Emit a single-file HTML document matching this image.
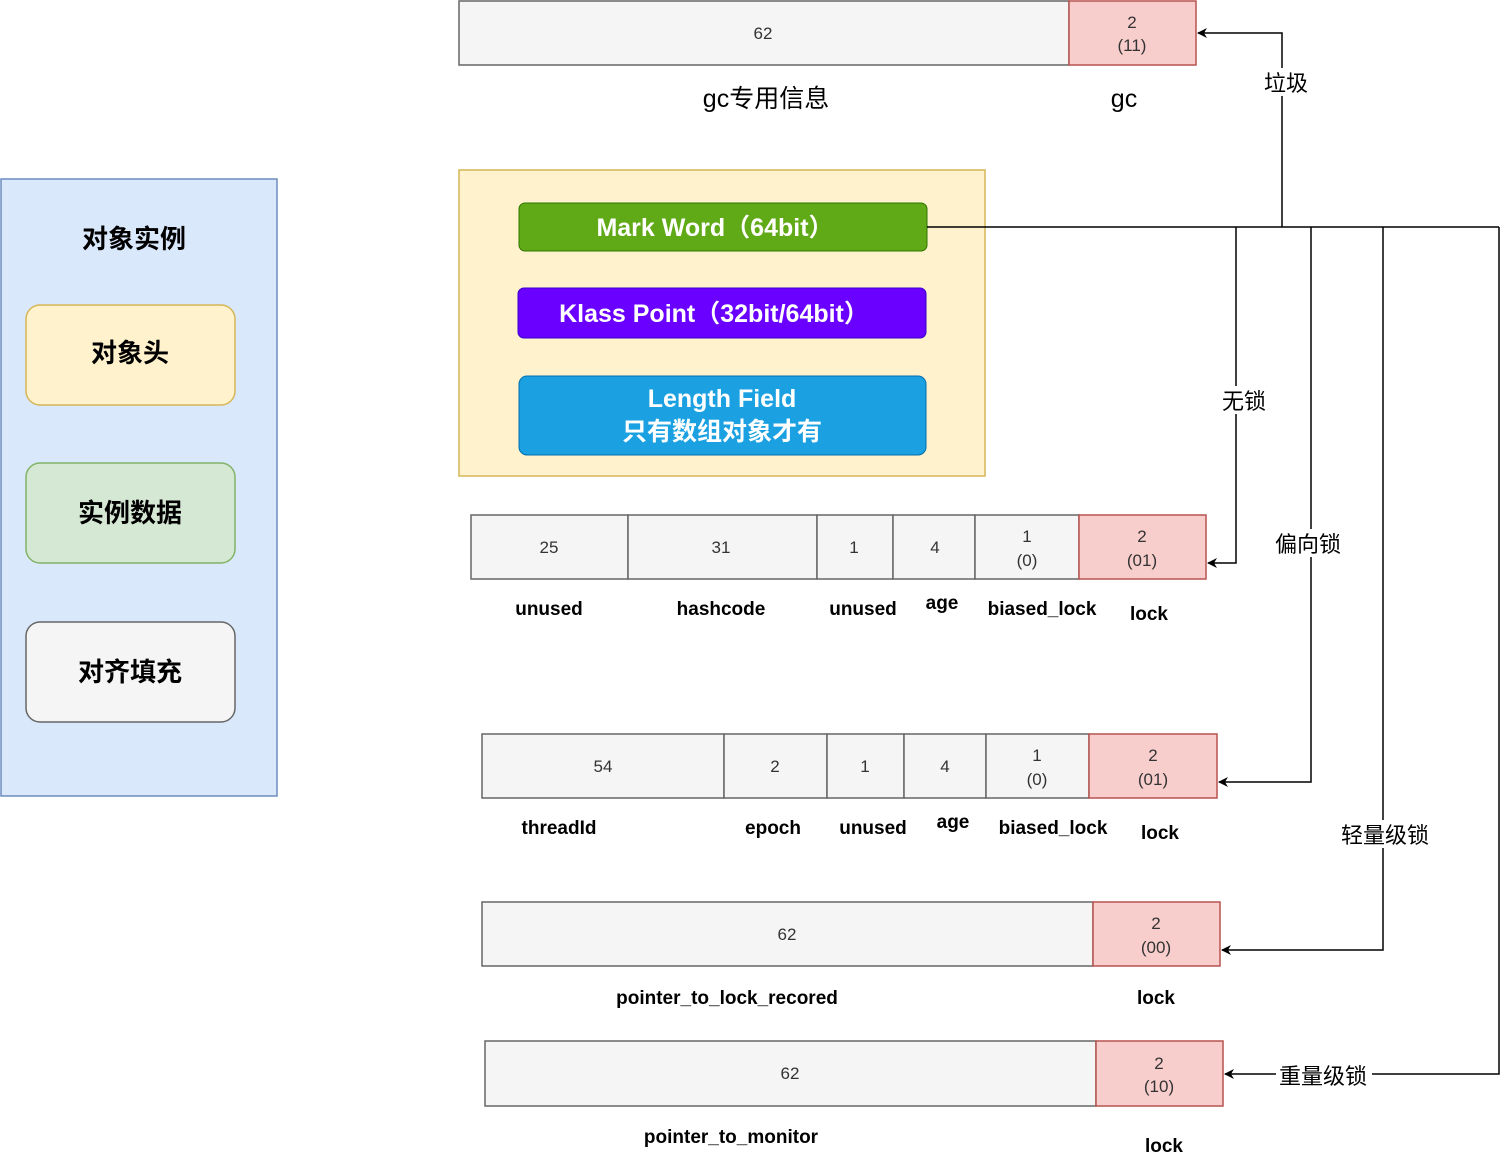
<!DOCTYPE html>
<html><head><meta charset="utf-8"><style>body{margin:0;background:#fff}svg{display:block}</style></head><body>
<svg width="1512" height="1169" xmlns="http://www.w3.org/2000/svg" font-family="Liberation Sans, Noto Sans CJK SC, sans-serif">
<defs><marker id="a" markerWidth="10" markerHeight="10" refX="9" refY="5" orient="auto" markerUnits="userSpaceOnUse"><path d="M0,0 L10,5 L0,10 L3,5 Z" fill="#000"/></marker></defs>
<!-- left panel -->
<rect x="1" y="179" width="276" height="617" fill="#dae8fc" stroke="#6c8ebf" stroke-width="1.5"/>
<text x="134" y="248" font-size="26" font-weight="bold" text-anchor="middle">对象实例</text>
<rect x="26" y="305" width="209" height="100" rx="14" fill="#fff2cc" stroke="#d6b656" stroke-width="1.5"/>
<text x="130" y="362" font-size="26" font-weight="bold" text-anchor="middle">对象头</text>
<rect x="26" y="463" width="209" height="100" rx="14" fill="#d5e8d4" stroke="#82b366" stroke-width="1.5"/>
<text x="130" y="522" font-size="26" font-weight="bold" text-anchor="middle">实例数据</text>
<rect x="26" y="622" width="209" height="100" rx="14" fill="#f5f5f5" stroke="#666" stroke-width="1.5"/>
<text x="130" y="681" font-size="26" font-weight="bold" text-anchor="middle">对齐填充</text>
<!-- header container -->
<rect x="459" y="170" width="526" height="306" fill="#fff2cc" stroke="#d6b656" stroke-width="1.5"/>
<rect x="519" y="203" width="408" height="48" rx="6" fill="#60a917" stroke="#2d7600"/>
<text x="715" y="236" font-size="25" font-weight="bold" fill="#fff" text-anchor="middle">Mark Word（64bit）</text>
<rect x="518" y="288" width="408" height="50" rx="6" fill="#6a00ff" stroke="#3700cc"/>
<text x="714" y="322" font-size="25" font-weight="bold" fill="#fff" text-anchor="middle">Klass Point（32bit/64bit）</text>
<rect x="519" y="376" width="407" height="79" rx="8" fill="#1ba1e2" stroke="#006eaf"/>
<text x="722" y="407" font-size="25" font-weight="bold" fill="#fff" text-anchor="middle">Length Field</text>
<text x="722" y="440" font-size="25" font-weight="bold" fill="#fff" text-anchor="middle">只有数组对象才有</text>
<g stroke="#666" stroke-width="1.5" fill="#f5f5f5">
<rect x="459" y="1" width="610" height="64"/>
<rect x="471" y="515" width="157" height="64"/><rect x="628" y="515" width="189" height="64"/><rect x="817" y="515" width="76" height="64"/><rect x="893" y="515" width="82" height="64"/><rect x="975" y="515" width="104" height="64"/>
<rect x="482" y="734" width="242" height="64"/><rect x="724" y="734" width="103" height="64"/><rect x="827" y="734" width="77" height="64"/><rect x="904" y="734" width="82" height="64"/><rect x="986" y="734" width="103" height="64"/>
<rect x="482" y="902" width="611" height="64"/>
<rect x="485" y="1041" width="611" height="65"/>
</g>
<g stroke="#b85450" stroke-width="1.5" fill="#f8cecc">
<rect x="1069" y="1" width="127" height="64"/>
<rect x="1079" y="515" width="127" height="64"/>
<rect x="1089" y="734" width="128" height="64"/>
<rect x="1093" y="902" width="127" height="64"/>
<rect x="1096" y="1041" width="127" height="65"/>
</g>
<g font-size="17" fill="#333" text-anchor="middle">
<text x="763" y="39">62</text><text x="1132" y="28">2</text><text x="1132" y="51">(11)</text>
<text x="549" y="553">25</text><text x="721" y="553">31</text><text x="854" y="553">1</text><text x="935" y="553">4</text><text x="1027" y="542">1</text><text x="1027" y="566">(0)</text><text x="1142" y="542">2</text><text x="1142" y="566">(01)</text>
<text x="603" y="772">54</text><text x="775" y="772">2</text><text x="865" y="772">1</text><text x="945" y="772">4</text><text x="1037" y="761">1</text><text x="1037" y="785">(0)</text><text x="1153" y="761">2</text><text x="1153" y="785">(01)</text>
<text x="787" y="940">62</text><text x="1156" y="929">2</text><text x="1156" y="953">(00)</text>
<text x="790" y="1079">62</text><text x="1159" y="1069">2</text><text x="1159" y="1092">(10)</text>
</g>
<g font-size="19" font-weight="bold" text-anchor="middle">
<text x="549" y="615">unused</text><text x="721" y="615">hashcode</text><text x="863" y="615">unused</text><text x="942" y="609">age</text><text x="1042" y="615">biased_lock</text><text x="1149" y="620">lock</text>
<text x="559" y="834">threadId</text><text x="773" y="834">epoch</text><text x="873" y="834">unused</text><text x="953" y="828">age</text><text x="1053" y="834">biased_lock</text><text x="1160" y="839">lock</text>
<text x="727" y="1004">pointer_to_lock_recored</text><text x="1156" y="1004">lock</text>
<text x="731" y="1143">pointer_to_monitor</text><text x="1164" y="1152">lock</text>
</g>
<g font-size="25" text-anchor="middle"><text x="766" y="107">gc专用信息</text><text x="1124" y="107">gc</text></g>
<!-- connectors -->
<g stroke="#000" stroke-width="1.5" fill="none">
<path d="M927,227 H1499"/>
<path d="M1282,227 V33 H1198" marker-end="url(#a)"/>
<path d="M1236,227 V563 H1208" marker-end="url(#a)"/>
<path d="M1311,227 V782 H1219" marker-end="url(#a)"/>
<path d="M1383,227 V950 H1222" marker-end="url(#a)"/>
<path d="M1499,227 V1074 H1225" marker-end="url(#a)"/>
</g>
<g font-size="22" text-anchor="middle">
<rect x="1262" y="68" width="48" height="28" fill="#fff"/><text x="1286" y="91">垃圾</text>
<rect x="1218" y="386" width="52" height="28" fill="#fff"/><text x="1244" y="409">无锁</text>
<rect x="1274" y="529" width="68" height="28" fill="#fff"/><text x="1308" y="552">偏向锁</text>
<rect x="1340" y="820" width="90" height="28" fill="#fff"/><text x="1385" y="843">轻量级锁</text>
<rect x="1276" y="1061" width="96" height="28" fill="#fff"/><text x="1323" y="1084">重量级锁</text>
</g>
</svg>
</body></html>
